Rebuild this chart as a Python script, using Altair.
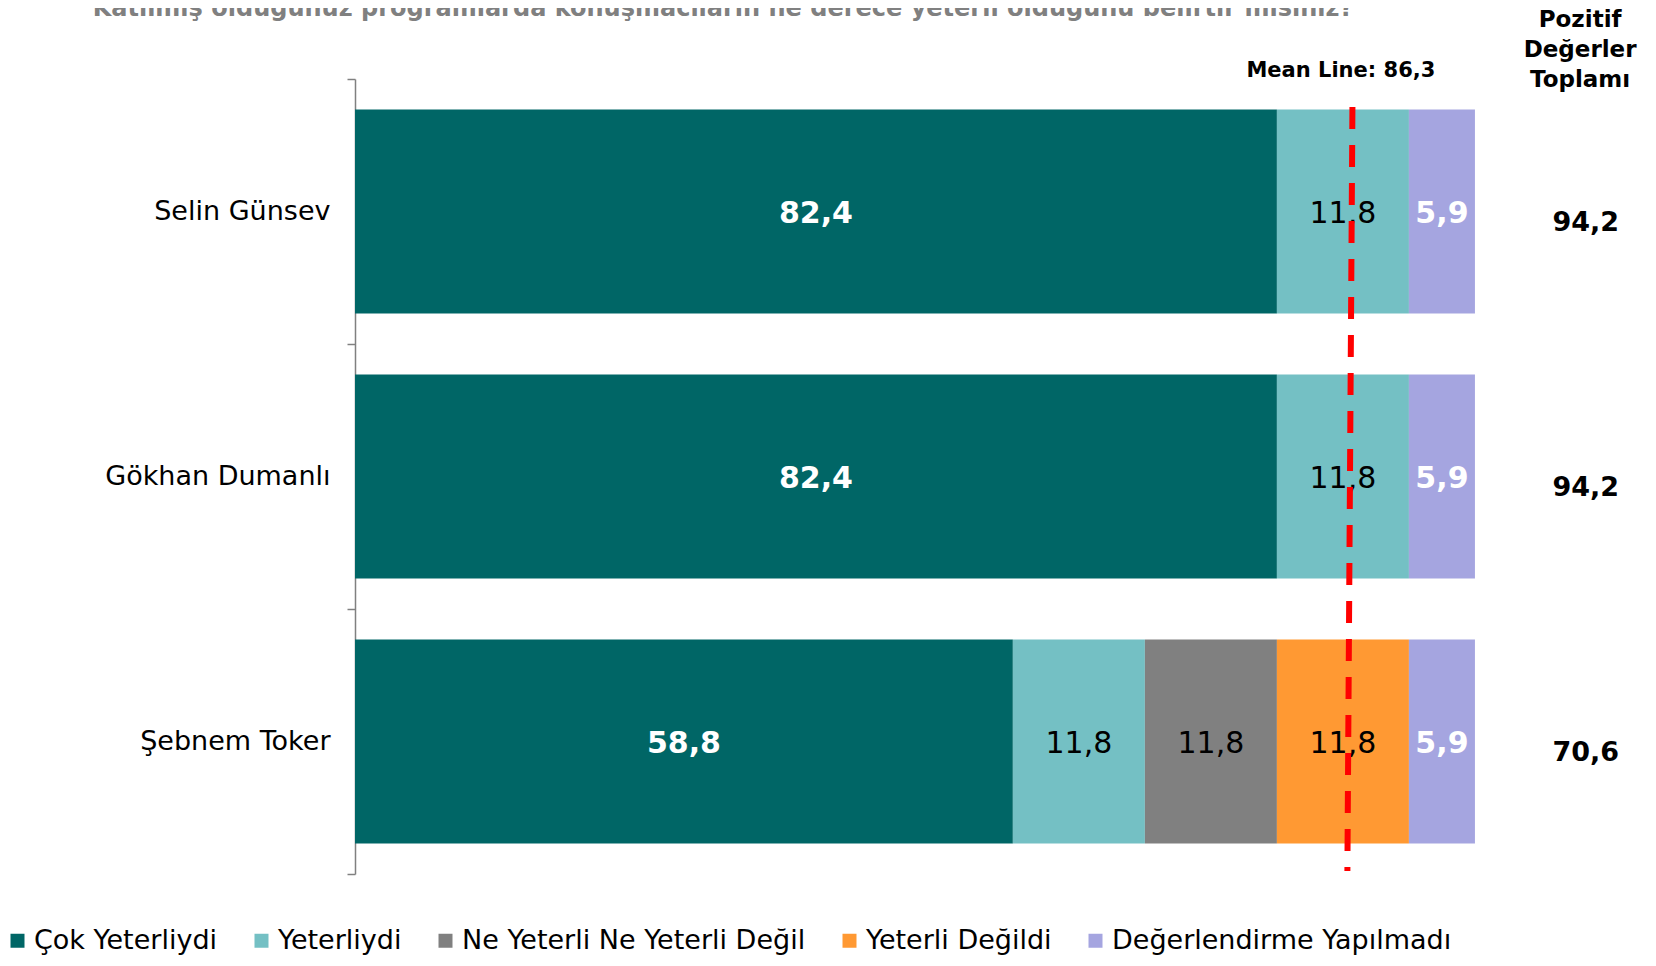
import altair as alt
import pandas as pd

# ---- data ----
title_text = "Katılmış olduğunuz programlarda konuşmacıların ne derece yeterli olduğunu belirtir misiniz?"
speakers = ["Selin Günsev", "Gökhan Dumanlı", "Şebnem Toker"]
categories = ["Çok Yeterliydi", "Yeterliydi", "Ne Yeterli Ne Yeterli Değil",
              "Yeterli Değildi", "Değerlendirme Yapılmadı"]
colors = ["#006666", "#74C0C4", "#808080", "#FF9933", "#A5A5E0"]

cok_yeterliydi = [82.4, 82.4, 58.8]
yeterliydi = [11.8, 11.8, 11.8]
ne_yeterli_ne_degil = [0.0, 0.0, 11.8]
yeterli_degildi = [0.0, 0.0, 11.8]
yapilmadi = [5.9, 5.9, 5.9]
positive_totals = [94.2, 94.2, 70.6]

mean_value = 86.3
mean_line_top = 89.15     # where the dashed line is drawn (top / bottom)
mean_line_bottom = 88.7
header_lines = ["Pozitif", "Değerler", "Toplamı"]

def fmt(v):
    return f"{v:.1f}".replace(".", ",")

# ---- build long table ----
series = [cok_yeterliydi, yeterliydi, ne_yeterli_ne_degil, yeterli_degildi, yapilmadi]
rows = []
for i, sp in enumerate(speakers):
    start = 0.0
    for j, cat in enumerate(categories):
        v = series[j][i]
        end = start + v
        if v > 0:
            rows.append({"speaker": sp, "category": cat, "idx": j, "value": v,
                         "start": start, "end": end, "mid": (start + end) / 2,
                         "label": fmt(v), "bold": j in (0, 4)})
        start = end
df = pd.DataFrame(rows)
totals_df = pd.DataFrame({"speaker": speakers, "total": positive_totals,
                          "label": [fmt(v) for v in positive_totals],
                          "xpos": [110.0] * 3})
mean_df = pd.DataFrame({"top": [mean_line_top], "bottom": [mean_line_bottom],
                        "label": ["Mean Line: " + fmt(mean_value)]})

FONT = "DejaVu Sans"
xscale = alt.Scale(domain=[0, 115.3], nice=False, zero=True)
yscale = alt.Scale(paddingInner=0, paddingOuter=0)
yenc = alt.Y("speaker:N", sort=speakers, title=None, scale=yscale,
             axis=alt.Axis(tickBand="extent", tickSize=8, tickColor="#808080",
                           domainColor="#808080", domainWidth=1.5, tickWidth=1.5,
                           labelFont=FONT, labelFontSize=27, labelColor="#000000",
                           labelPadding=17, labelLimit=400))

bars = alt.Chart(df).mark_bar(height={"band": 0.77}).encode(
    y=yenc,
    x=alt.X("start:Q", scale=xscale, axis=None),
    x2="end:Q",
    color=alt.Color("category:N", sort=categories,
                    scale=alt.Scale(domain=categories, range=colors),
                    legend=alt.Legend(title=None, orient="none", direction="horizontal",
                                      legendX=-351, legendY=848, padding=0,
                                      symbolType="square", symbolSize=196,
                                      symbolStrokeWidth=0, labelFont=FONT,
                                      labelFontSize=27, labelColor="#000000",
                                      labelLimit=600, labelOffset=3,
                                      columnPadding=30)),
)

labels_bold = alt.Chart(df[df["bold"]]).mark_text(
    font=FONT, fontSize=30, fontWeight="bold", color="white", baseline="middle", dy=2
).encode(y=alt.Y("speaker:N", sort=speakers), x=alt.X("mid:Q", scale=xscale), text="label:N")

labels_reg = alt.Chart(df[~df["bold"]]).mark_text(
    font=FONT, fontSize=30, color="black", baseline="middle", dy=2
).encode(y=alt.Y("speaker:N", sort=speakers), x=alt.X("mid:Q", scale=xscale), text="label:N")

totals = alt.Chart(totals_df).mark_text(
    font=FONT, fontSize=27, fontWeight="bold", color="black", baseline="middle", dy=11
).encode(y=alt.Y("speaker:N", sort=speakers), x=alt.X("xpos:Q", scale=xscale), text="label:N")

mean_line = alt.Chart(mean_df).mark_rule(
    color="#FF0000", strokeWidth=6, strokeDash=[22, 16]
).encode(x=alt.X("top:Q", scale=xscale), x2="bottom:Q",
         y=alt.value(28), y2=alt.value(792))

mean_label = alt.Chart(mean_df).mark_text(
    font=FONT, fontSize=21, fontWeight="bold", color="black", baseline="alphabetic"
).encode(x=alt.X(datum=88.12, scale=xscale), y=alt.value(-2), text="label:N")

header = alt.Chart(mean_df).mark_text(
    font=FONT, fontSize=23, fontWeight="bold", color="black",
    baseline="alphabetic", lineHeight=30, align="center"
).encode(x=alt.X(datum=109.5, scale=xscale), y=alt.value(-52),
         text=alt.value(header_lines))

title = alt.Chart(pd.DataFrame({"t": [title_text]})).mark_text(
    font=FONT, fontSize=24, fontWeight="bold", color="#808080",
    baseline="alphabetic", align="center"
).encode(x=alt.value(368), y=alt.value(-63), text="t:N")

chart = alt.layer(bars, labels_bold, labels_reg, totals, mean_line, mean_label, header, title).properties(
    width=1290, height=795,
    padding={"left": 347, "top": 71, "right": 0, "bottom": 84},
    autosize=alt.AutoSizeParams(type="none"),
).configure_view(stroke=None)

chart.save("out.html", embed_options={"renderer": "svg", "actions": False})
